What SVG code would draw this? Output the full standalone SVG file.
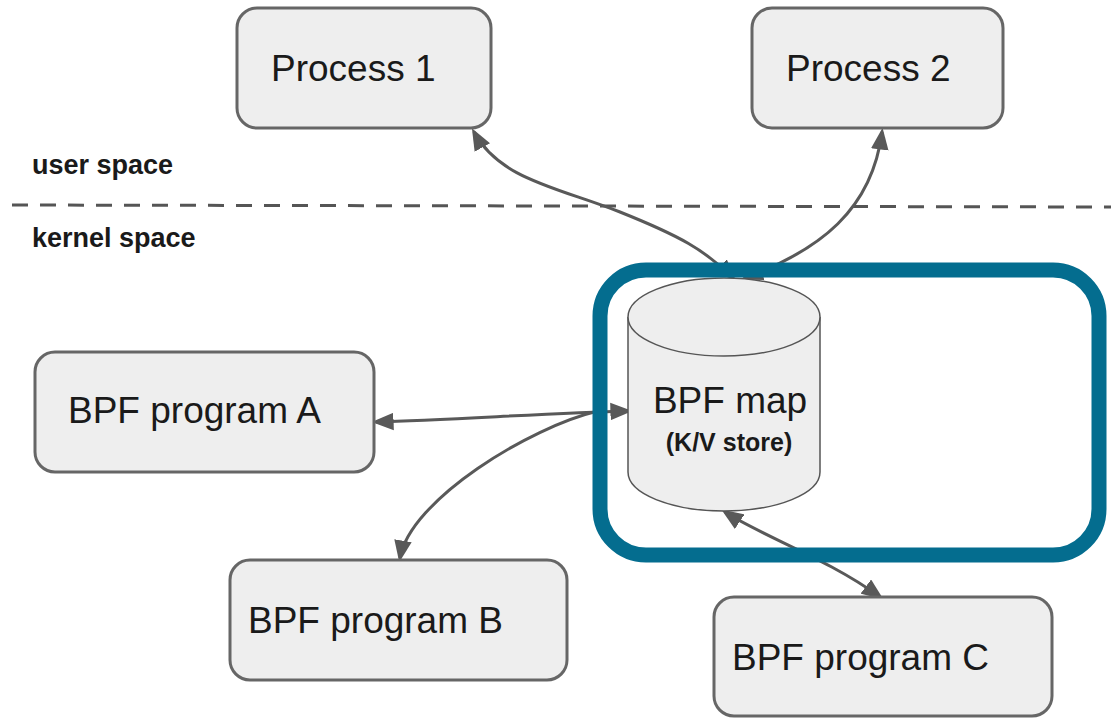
<svg xmlns="http://www.w3.org/2000/svg" width="1111" height="720" viewBox="0 0 1111 720">
  <style>
    .box { fill: #eeeeee; stroke: #666666; stroke-width: 3; }
    .label { font-family: "Liberation Sans", Arial, sans-serif; font-size: 37px; fill: #1a1a1a; }
    .zone { font-family: "Liberation Sans", Arial, sans-serif; font-size: 27px; font-weight: bold; fill: #1a1a1a; }
    .sub { font-family: "Liberation Sans", Arial, sans-serif; font-size: 25px; font-weight: bold; fill: #1a1a1a; }
    .link { fill: none; stroke: #595959; stroke-width: 3; }
    .drum { fill: #eeeeee; stroke: #555555; stroke-width: 1.5; }
  </style>
  <defs>
    <marker id="head" markerUnits="userSpaceOnUse" markerWidth="22" markerHeight="18" viewBox="0 0 20 16" refX="16" refY="8" orient="auto-start-reverse">
      <path d="M0,0 L20,8 L0,16 z" fill="#595959"/>
    </marker>
  </defs>

  <rect width="1111" height="720" fill="#ffffff"/>

  <!-- boundary between user space and kernel space -->
  <g id="boundary">
    <line x1="12" y1="205" x2="1111" y2="207" stroke="#555555" stroke-width="3" stroke-dasharray="16 12"/>
    <text class="zone" x="32" y="174">user space</text>
    <text class="zone" x="32" y="247">kernel space</text>
  </g>

  <!-- connectors -->
  <g id="connectors">
    <path class="link" d="M 474,132 C 500,180 560,188 620,212 S 705,250 733,278" marker-start="url(#head)" marker-end="url(#head)"/>
    <path class="link" d="M 745,278 C 820,250 872,210 882,132" marker-start="url(#head)" marker-end="url(#head)"/>
    <path class="link" d="M 376,422 C 450,420 550,413 628,411" marker-start="url(#head)" marker-end="url(#head)"/>
    <path class="link" d="M 598,411 C 530,427 410,500 400,558" marker-end="url(#head)"/>
    <path class="link" d="M 725,512 C 760,535 830,560 880,597" marker-start="url(#head)" marker-end="url(#head)"/>
  </g>

  <g id="process1">
    <rect class="box" x="237" y="8" width="254" height="120" rx="20"/>
    <text class="label" x="271" y="81">Process 1</text>
  </g>

  <g id="process2">
    <rect class="box" x="752" y="8" width="251" height="120" rx="20"/>
    <text class="label" x="786" y="81">Process 2</text>
  </g>

  <g id="programA">
    <rect class="box" x="35" y="352" width="339" height="120" rx="20"/>
    <text class="label" x="68" y="423">BPF program A</text>
  </g>

  <g id="programB">
    <rect class="box" x="230" y="560" width="337" height="120" rx="20"/>
    <text class="label" x="248" y="633">BPF program B</text>
  </g>

  <g id="programC">
    <rect class="box" x="714" y="597" width="338" height="119" rx="20"/>
    <text class="label" x="732" y="670">BPF program C</text>
  </g>

  <g id="bpfmap">
    <path class="drum" d="M 628,317 L 628,472 A 96,39 0 0 0 820,472 L 820,317"/>
    <ellipse class="drum" cx="724" cy="317" rx="96" ry="39"/>
    <text class="label" x="730" y="413" text-anchor="middle">BPF map</text>
    <text class="sub" x="729" y="451" text-anchor="middle">(K/V store)</text>
  </g>

  <!-- highlight frame around the map -->
  <g id="highlight">
    <rect x="600" y="270" width="499" height="285" rx="46" fill="none" stroke="#046d8f" stroke-width="15"/>
  </g>
</svg>
